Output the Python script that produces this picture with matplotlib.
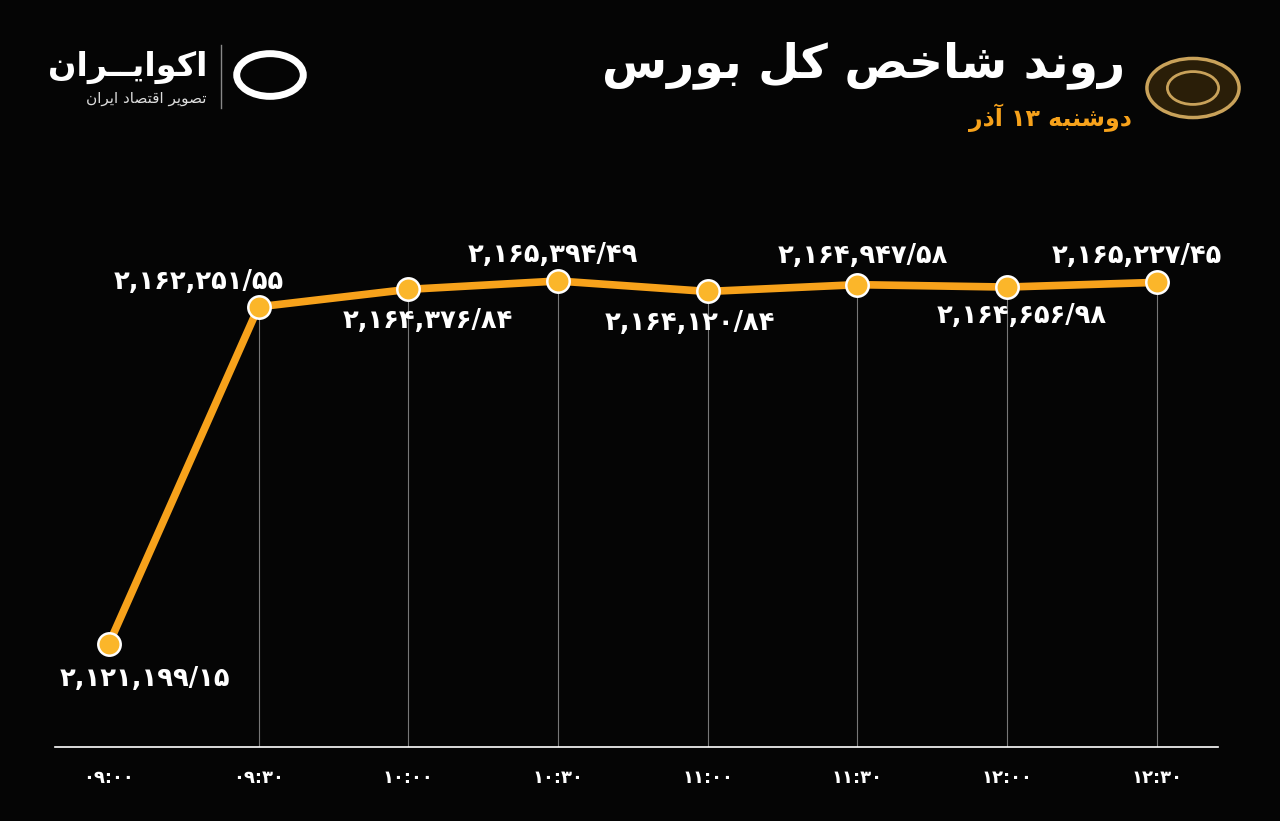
import matplotlib
matplotlib.use("Agg")
import matplotlib.pyplot as plt
from matplotlib.patches import Circle

times = ["۰۹:۰۰", "۰۹:۳۰", "۱۰:۰۰", "۱۰:۳۰", "۱۱:۰۰", "۱۱:۳۰", "۱۲:۰۰", "۱۲:۳۰"]
values = [2121199.15, 2162251.55, 2164376.84, 2165394.49,
          2164120.84, 2164947.58, 2164656.98, 2165227.45]
labels = ["۲,۱۲۱,۱۹۹/۱۵", "۲,۱۶۲,۲۵۱/۵۵", "۲,۱۶۴,۳۷۶/۸۴", "۲,۱۶۵,۳۹۴/۴۹",
          "۲,۱۶۴,۱۲۰/۸۴", "۲,۱۶۴,۹۴۷/۵۸", "۲,۱۶۴,۶۵۶/۹۸", "۲,۱۶۵,۲۲۷/۴۵"]
title = "روند شاخص کل بورس"
subtitle = "دوشنبه ۱۳ آذر"
brand = "اکوایــران"
brand_sub = "تصویر اقتصاد ایران"

# minimal arabic shaping: (isolated, final, initial, medial)
FORMS = {
    "ا": (0xFE8D, 0xFE8E), "آ": (0xFE81, 0xFE82), "د": (0xFEA9, 0xFEAA),
    "ذ": (0xFEAB, 0xFEAC), "ر": (0xFEAD, 0xFEAE), "و": (0xFEED, 0xFEEE),
    "ب": (0xFE8F, 0xFE90, 0xFE91, 0xFE92), "ت": (0xFE95, 0xFE96, 0xFE97, 0xFE98),
    "خ": (0xFEA5, 0xFEA6, 0xFEA7, 0xFEA8), "س": (0xFEB1, 0xFEB2, 0xFEB3, 0xFEB4),
    "ش": (0xFEB5, 0xFEB6, 0xFEB7, 0xFEB8), "ص": (0xFEB9, 0xFEBA, 0xFEBB, 0xFEBC),
    "ق": (0xFED5, 0xFED6, 0xFED7, 0xFED8), "ل": (0xFEDD, 0xFEDE, 0xFEDF, 0xFEE0),
    "ن": (0xFEE5, 0xFEE6, 0xFEE7, 0xFEE8), "ه": (0xFEE9, 0xFEEA, 0xFEEB, 0xFEEC),
    "ک": (0xFB8E, 0xFB8F, 0xFB90, 0xFB91), "ی": (0xFBFC, 0xFBFD, 0xFBFE, 0xFBFF),
    "پ": (0xFB56, 0xFB57, 0xFB58, 0xFB59),
}


def dual(c):
    return c == "ـ" or (c in FORMS and len(FORMS[c]) == 4)


def joins(c):
    return c == "ـ" or c in FORMS


def shape(s):
    out = []
    for i, c in enumerate(s):
        if c not in FORMS:
            out.append(c)
            continue
        prev = s[i - 1] if i > 0 else ""
        nxt = s[i + 1] if i + 1 < len(s) else ""
        jp = dual(prev)
        jn = dual(c) and joins(nxt)
        f = FORMS[c]
        if jp and jn:
            out.append(chr(f[3]))
        elif jp:
            out.append(chr(f[1]))
        elif jn:
            out.append(chr(f[2]))
        else:
            out.append(chr(f[0]))
    # visual order: reverse words and letters, keep digit runs LTR
    words = "".join(out).split(" ")
    res = []
    for w in reversed(words):
        if any(ch.isdigit() for ch in w):
            res.append(w)
        else:
            res.append(w[::-1])
    return " ".join(res)


bg = "#050505"
orange = "#f7a21b"
plt.rcParams["font.family"] = ["DejaVu Sans"]

fig = plt.figure(figsize=(12.8, 8.21), dpi=100, facecolor=bg)
ax = fig.add_axes([55 / 1280, 1 - 747 / 821, 1163 / 1280, 597 / 821])
ax.set_facecolor(bg)
x = list(range(len(values)))
ax.set_xlim(-0.36, 7.41)
ax.set_ylim(2108659, 2181344)

for i in x[1:]:
    ax.plot([i, i], [ax.get_ylim()[0], values[i]], color="#777777", lw=0.8, zorder=1)
ax.plot(x, values, color=orange, lw=5.5, zorder=2, solid_capstyle="round")
ax.scatter(x, values, s=260, color="#fbb62a", edgecolor="white", linewidth=1.8, zorder=3)

offsets = [(26, -25), (-43, 18), (14, -23), (-4, 19), (-13, -23), (4, 21), (11, -21), (-14, 19)]
for i, (lab, (dx, dy)) in enumerate(zip(labels, offsets)):
    ax.annotate(lab, (i, values[i]), xytext=(dx, dy), textcoords="offset points",
                ha="center", va="center", color="white", fontsize=18.5, fontweight="bold")

for s in ["top", "right", "left"]:
    ax.spines[s].set_visible(False)
ax.spines["bottom"].set_color("white")
ax.spines["bottom"].set_linewidth(1.2)
ax.set_yticks([])
ax.set_xticks(x)
ax.set_xticklabels(times, color="white", fontsize=13, fontweight="bold")
ax.tick_params(axis="x", length=0, pad=16)

fig.text(1125 / 1280, 1 - 65 / 821, shape(title), ha="right", va="center",
         color="white", fontsize=34, fontweight="bold")
fig.text(1132 / 1280, 1 - 118 / 821, shape(subtitle), ha="right", va="center",
         color=orange, fontsize=17, fontweight="bold")
fig.text(208 / 1280, 1 - 67 / 821, shape(brand), ha="right", va="center",
         color="white", fontsize=24, fontweight="bold")
fig.text(206 / 1280, 1 - 98 / 821, shape(brand_sub), ha="right", va="center",
         color="#dddddd", fontsize=11)
fig.add_artist(plt.Line2D([221 / 1280, 221 / 1280], [1 - 45 / 821, 1 - 108 / 821],
                          color="#888888", lw=1))
fig.add_artist(Circle((1193 / 1280, 1 - 88 / 821), 0.036, transform=fig.transFigure,
                      facecolor="#2a1e08", edgecolor="#c9a25a", lw=2.5))
fig.add_artist(Circle((1193 / 1280, 1 - 88 / 821), 0.02, transform=fig.transFigure,
                      facecolor="none", edgecolor="#c9a25a", lw=2))
fig.add_artist(Circle((270 / 1280, 1 - 75 / 821), 0.026, transform=fig.transFigure,
                      facecolor="none", edgecolor="white", lw=5))

fig.savefig("out.png", dpi=100, facecolor=bg)
